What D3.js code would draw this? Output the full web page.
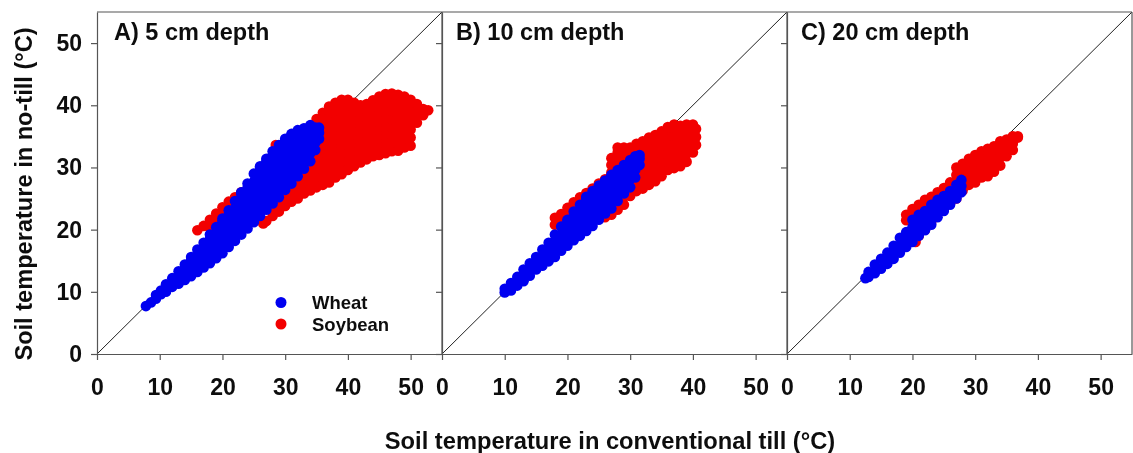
<!DOCTYPE html>
<html><head><meta charset="utf-8">
<script src="https://cdn.jsdelivr.net/npm/d3@7"></script>
<style>html,body{margin:0;padding:0;background:#fff}svg{display:block}text{font-family:"Liberation Sans",Arial,sans-serif;font-weight:bold;fill:#111}</style>
</head><body><div id="c"></div>
<script>
const panelLabels = ["A) 5 cm depth","B) 10 cm depth","C) 20 cm depth"];
const tickValues = [0,10,20,30,40,50];
const legendNames = ["Wheat","Soybean"];
const seriesColors = ["#0000f0","#f20000"];
// Each row: conventional-till temperature, then the no-till temperatures read at it
const soybeanA = [[16,19.9],[17,20.6],[18,20.4,21.6],[19,21.4,22.6],[20,22.2,23.6],[21,23,24.5],[22,23.8,25.2],[23,24.4,26],
[26.5,21],[27,21.4],[28,22.2,23.5],[28.5,33.6],[29,22.9,24.2,25.5],[30,23.8,25,26.3,27.5],[31,24.5,25.8,27.1,28.4],[32,25,26.3,27.6,28.9,30.2],
[33,25.8,27.1,28.4,29.7,31,32.3],[34,26.3,27.6,28.9,30.2,31.5,32.8,34.1,35.4,36.2],[35,26.8,28.1,29.4,30.7,32,33.3,34.6,35.9,37.2,37.8],
[36,27.2,28.5,29.8,31.1,32.4,33.7,35,36.3,37.6,38.8],[37,27.6,28.9,30.2,31.5,32.8,34.1,35.4,36.7,38,39.3,39.8],
[38,28.4,29.7,31,32.3,33.6,34.9,36.2,37.5,38.8,40.1,40.4],[39,28.9,30.2,31.5,32.8,34.1,35.4,36.7,38,39.3,40.6,40.9],
[40,29.6,30.9,32.2,33.5,34.8,36.1,37.4,38.7,40,40.9],[41,30.2,31.5,32.8,34.1,35.4,36.7,38,39.3,40.4],
[42,30.8,32.1,33.4,34.7,36,37.3,38.6,39.9,40],[43,31.3,32.6,33.9,35.2,36.5,37.8,39.1,40.2],[44,31.8,33.1,34.4,35.7,37,38.3,39.6,40.8],
[45,32,33.3,34.6,35.9,37.2,38.5,39.8,41,41.4],[46,32.3,33.6,34.9,36.2,37.5,38.8,40.1,41.4,41.8],[47,32.6,33.9,35.2,36.5,37.8,39.1,40.4,41.7,41.9],
[48,32.7,34,35.3,36.6,37.9,39.2,40.5,41.7],[49,33.2,34.5,35.8,37.1,38.4,39.7,41,41.4],[50,33.5,34.8,36.1,37.4,38.7,40,40.9],
[51,37.2,38.5,39.8,40.2],[52,38.4,39.4],[52.8,39.2]];
const wheatA = [[7.8,7.7],[8.6,8.3],[9.4,8.9,9.5],[10.2,9.6,10.2],[11,10,11.2],[12,10.8,12.2],[13,11.3,12.6,13.3],[14,11.9,13.2,14.4],
[15,12.5,13.8,15.1,15.6],[16,13.2,14.5,15.8,16.8],[17,13.9,15.2,16.5,17.9],[18,14.6,15.9,17.2,18.5,19.2],[19,15.4,16.7,18,19.3,20.4],
[20,16.2,17.5,18.8,20.1,21.4,21.8],[21,17.2,18.5,19.8,21.1,22.4,23.1],[22,18.2,19.5,20.8,22.1,23.4,24.6],[23,19.2,20.5,21.8,23.1,24.4,25.7,26],
[24,20.2,21.5,22.8,24.1,25.4,26.7,27.4],[25,21.2,22.5,23.8,25.1,26.4,27.7,29],[26,22.2,23.5,24.8,26.1,27.4,28.7,30,30.2],
[27,23.2,24.5,25.8,27.1,28.4,29.7,31,31.4],[28,24.2,25.5,26.8,28.1,29.4,30.7,32,32.6],[29,25.2,26.5,27.8,29.1,30.4,31.7,33,33.6],
[30,26.4,27.7,29,30.3,31.6,32.9,34.2,34.6],[31,27.4,28.7,30,31.3,32.6,33.9,35.2,35.4],[32,28.6,29.9,31.2,32.5,33.8,35.1,36],
[33,29.8,31.1,32.4,33.7,35,36.3],[34,31,32.3,33.6,34.9,36.2,36.8],[34.8,32.8,34,35.2,36.4],[35.4,34.6,35.6,36.4]];
const soybeanB = [[18,20.8,21.9],[19,20.6,21.6,22.5],[20,21.8,22.7,23.5],[21,23,24.4],[22,24,25.2],[23,25,25.9],[24,25.5,26.6],[25,21.7,26.2,27.4],[26,22,27,28.1],
[27,22.4,23.5,28,29.2,30.4,31.5],[28,23.2,24.4,28.8,30,31.2,32.4,33.2],[29,24,25.3,29.8,31,32.2,33.2],[30,25.4,26.7,28,29.3,30.6,31.9,33.2],
[31,26.2,27.5,28.8,30.1,31.4,32.7,33.8],[32,26.6,27.9,29.2,30.5,31.8,33.1,34.2],[33,27.2,28.5,29.8,31.1,32.4,33.7,34.8],
[34,27.8,29.1,30.4,31.7,33,34.3,35.2],[35,28.6,29.9,31.2,32.5,33.8,35.1,35.8],[36,29.6,30.9,32.2,33.5,34.8,36.1,36.5],
[37,29.9,31.2,32.5,33.8,35.1,36.4,36.9],[38,30.2,31.5,32.8,34.1,35.4,36.7],[39,30.9,32.2,33.5,34.8,36.1,36.9],[40,32.4,33.7,35,36.3,36.9],[40.5,33.6,34.9,36.2]];
const wheatB = [[10,9.9,10.5],[11,10.2,11.4],[12,11,12.4],[13,11.7,12.8,13.6],[14,12.6,13.7,14.6],[15,13.6,14.6,15.6],[16,14.2,15.5,16.8],
[17,14.9,16.2,17,17.9],[18,15.6,16.9,18.2,19.2],[19,16.6,17.9,19.2,20.5],[20,17.4,18.7,20,21.3,21.6],[21,18.3,19.6,20.9,22.2,22.9],
[22,19,20.3,21.6,22.9,24],[23,19.8,21.1,22.4,23.7,25,25.3],[24,20.6,21.9,23.2,24.5,25.8,26.2],[25,21.6,22.9,24.2,25.5,26.8,27.1],
[26,22.6,23.9,25.2,26.5,27.9],[27,23.4,24.7,26,27.3,28.6,28.8],[28,24.6,25.9,27.2,28.5,29.6],[29,25.8,27.1,28.4,29.7,30.4],
[30,26.8,28.1,29.4,30.7,31.2],[30.8,28.4,29.6,30.8,31.8],[31.5,30.4,31.4,32]];
const soybeanC = [[19,21.5,22.4],[20,21.5,22.4,23.3],[20.5,18],[21,19,23,24],[22,20,24,24.8],[23,21.3,22.7,24.6,25.3],[24,23.4,25.4,26],[25,23.5,24.7,26,26.7],
[26,24.2,25.5,26.7,27.6],[27,25,26.2,27.5,28.8,30],[28,26.3,27.5,28.8,30.1,30.6],[29,27.2,28.4,29.7,31,31.4],[30,27.6,28.9,30.2,31.5,32],
[31,28.4,29.7,31,32.3,32.6],[32,28.6,29.9,31.2,32.5,33],[33,29.3,30.6,31.9,33.2,33.4],[34,30.3,31.6,32.9,34.2],[35,31.8,33.1,34.5],[36,32.8,33.8,35],[36.8,34.8,35]];
const wheatC = [[12.5,12.2],[13,12.4,13.2],[14,13,14.4],[15,13.7,15.3],[16,14.5,15.6,16.3],[17,15.3,16.4,17.4],[18,16.3,17.5,18.7],[19,17.2,18.4,19.6],[20,18,19.2,20.4,21.6],
[21,19,20.2,21.4,22.4],[22,19.9,21.1,22.3,23],[23,20.8,22,23.2,24],[24,22,23.2,24.4,24.8],[25,23,24.2,25.4],[26,24,25.1,26.2],[27,25,26.1,27.2],[27.8,26,27,28]];
const panels = [[soybeanA,wheatA],[soybeanB,wheatB],[soybeanC,wheatC]];
const expand = rows => rows.flatMap(([x,...ys]) => ys.map(y => [x,y]));

const W=1133,H=453, pw=345, plotTop=12, plotBottom=354, lefts=[97,442,787];
const svg=d3.select("#c").append("svg").attr("width",W).attr("height",H);
const defs=svg.append("defs");
defs.append("filter").attr("id","soft").append("feGaussianBlur").attr("stdDeviation",0.45);
const root=svg.append("g").attr("filter","url(#soft)");
const y=d3.scaleLinear().domain([0,55]).range([plotBottom,plotTop]);
panels.forEach((series,i)=>{
  const x=d3.scaleLinear().domain([0,55]).range([lefts[i],lefts[i]+pw]);
  const g=root.append("g");
  g.append("line").attr("x1",x(0)).attr("y1",y(0)).attr("x2",x(55)).attr("y2",y(55)).attr("stroke","#222").attr("stroke-width",1);
  series.forEach((rows,k)=>{
    g.append("g").selectAll("circle").data(expand(rows)).join("circle")
      .attr("cx",d=>x(d[0])).attr("cy",d=>y(d[1])).attr("r",5.3).attr("fill",seriesColors[1-k]);
  });
  const ax=g.append("g").attr("transform",`translate(0,${plotBottom})`).call(d3.axisBottom(x).tickValues(tickValues).tickSize(6).tickSizeOuter(0).tickPadding(19));
  const ay=g.append("g").attr("transform",`translate(${lefts[i]},0)`).call(d3.axisLeft(y).tickValues(tickValues).tickSize(6).tickSizeOuter(0).tickPadding(9));
  if(i>0) ay.selectAll("text").remove();
  [ax,ay].forEach(a=>{a.selectAll("path,line").attr("stroke","#555").attr("stroke-width",1.2);
    a.selectAll("text").attr("font-size",23).style("font-family",'"Liberation Sans",Arial,sans-serif').style("font-weight","bold").attr("fill","#111");});
  g.append("line").attr("x1",x(0)).attr("x2",x(55)).attr("y1",y(55)).attr("y2",y(55)).attr("stroke","#555").attr("stroke-width",1.2);
  g.append("line").attr("x1",x(55)).attr("x2",x(55)).attr("y1",y(55)).attr("y2",y(0)).attr("stroke","#555").attr("stroke-width",1.2);
  g.append("text").attr("x",x(0)+(i==0?17:14)).attr("y",40).attr("font-size",23.5).text(panelLabels[i]);
});
legendNames.forEach((n,k)=>{
  const ly=[302.5,324][k];
  root.append("circle").attr("cx",281).attr("cy",ly).attr("r",5.5).attr("fill",seriesColors[k]);
  root.append("text").attr("x",312).attr("y",ly+6.5).attr("font-size",18.5).text(n);
});
root.append("text").attr("x",610).attr("y",449).attr("text-anchor","middle").attr("font-size",23.7).text("Soil temperature in conventional till (°C)");
root.append("text").attr("transform","translate(32,194) rotate(-90)").attr("text-anchor","middle").attr("font-size",23.6).text("Soil temperature in no-till (°C)");
</script></body></html>
